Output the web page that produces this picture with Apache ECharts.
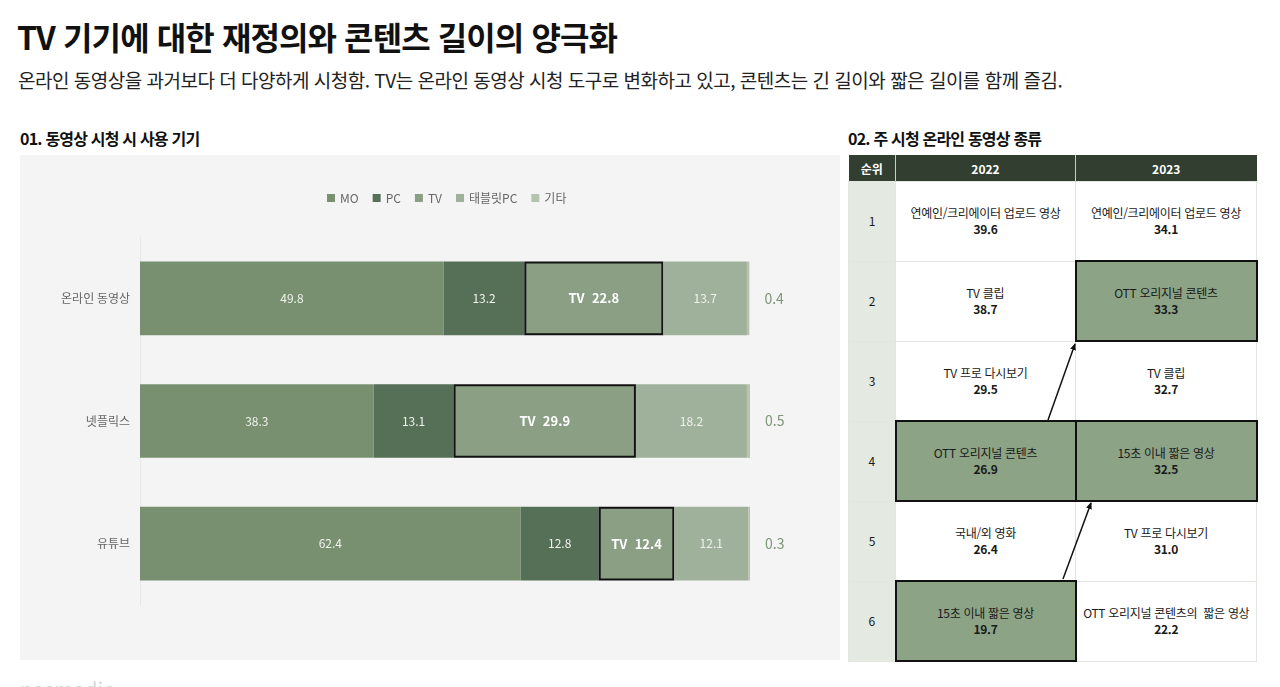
<!DOCTYPE html>
<html lang="ko">
<head>
  <meta charset="utf-8">
  <style>
    body { margin: 0; background: #fff; font-family: "Noto Sans CJK KR", "Noto Sans", sans-serif; color: #111; }
    #page { position: relative; width: 1280px; height: 687px; overflow: hidden; }
    .title { position: absolute; left: 17px; top: 15px; font-size: 32px; font-weight: 700; letter-spacing: -0.9px; line-height: 42px; }
    .subtitle { position: absolute; left: 18px; top: 67px; font-size: 19px; letter-spacing: -0.5px; line-height: 26px; color: #222; }
    .sec { position: absolute; top: 127px; font-size: 16px; font-weight: 700; letter-spacing: -0.8px; line-height: 22px; }
    #panel { position: absolute; left: 20px; top: 155px; width: 820px; height: 505px; background: #f4f4f4; }
    #container { width: 100%; height: 100%; }
    #rank { position: absolute; left: 848px; top: 155px; border-collapse: collapse; table-layout: fixed; }
    #rank th { background: #323f30; color: #fff; font-size: 12px; font-weight: 700; height: 26px; padding: 0; border-left: 1px solid #c9d0c6; }
    #rank th:first-child { border-left: none; }
    #rank td { height: 78px; padding: 0; text-align: center; font-size: 12px; line-height: 16px; letter-spacing: -0.3px; color: #1a1a1a; border: 1px solid #e2e6e0; background: #fff; }
    #rank td.no { background: #e4e9e2; }
    #rank td.hl { background: #8ca386; border: 2px solid #111; }
    #rank td b { font-weight: 700; }
    #arrows { position: absolute; left: 0; top: 0; }
    .mark { position: absolute; left: 20px; top: 674px; font-size: 20px; color: #d4d4d4; letter-spacing: 0.5px; }
  </style>
</head>
<body>
<div id="page">
  <div class="title">TV 기기에 대한 재정의와 콘텐츠 길이의 양극화</div>
  <div class="subtitle">온라인 동영상을 과거보다 더 다양하게 시청함. TV는 온라인 동영상 시청 도구로 변화하고 있고, 콘텐츠는 긴 길이와 짧은 길이를 함께 즐김.</div>
  <div class="sec" style="left:20px">01. 동영상 시청 시 사용 기기</div>
  <div class="sec" style="left:848px">02. 주 시청 온라인 동영상 종류</div>
  <div id="panel"><div id="container"></div></div>
  <table id="rank">
    <colgroup><col style="width:47px"><col style="width:180px"><col style="width:181px"></colgroup>
    <thead><tr><th>순위</th><th>2022</th><th>2023</th></tr></thead>
    <tbody id="rankBody"></tbody>
  </table>
  <svg id="arrows" width="1280" height="687">
    <defs>
      <marker id="head" markerWidth="8" markerHeight="8" refX="6" refY="3" orient="auto" markerUnits="userSpaceOnUse">
        <path d="M0,0 L7,3 L0,6 Z" fill="#111"></path>
      </marker>
    </defs>
    <line x1="1048" y1="420" x2="1075" y2="344" stroke="#111" stroke-width="1.5" marker-end="url(#head)"></line>
    <line x1="1063" y1="579" x2="1091" y2="503" stroke="#111" stroke-width="1.5" marker-end="url(#head)"></line>
  </svg>
  <div class="mark">nasmedia</div>
</div>

<script src="https://cdn.jsdelivr.net/npm/echarts@6/dist/echarts.min.js"></script>
<script>
  // 01. 사용 기기 (%)
  const platforms = ['온라인 동영상', '넷플릭스', '유튜브'];
  const devices = ['MO', 'PC', 'TV', '태블릿PC', '기타'];
  const moValues = [49.8, 38.3, 62.4];
  const pcValues = [13.2, 13.1, 12.8];
  const tvValues = [22.8, 29.9, 12.4];
  const tabletValues = [13.7, 18.2, 12.1];
  const etcValues = [0.4, 0.5, 0.3];

  // 02. 주 시청 종류 (%)
  const ranks = [1, 2, 3, 4, 5, 6];
  const names2022 = ['연예인/크리에이터 업로드 영상', 'TV 클립', 'TV 프로 다시보기', 'OTT 오리지널 콘텐츠', '국내/외 영화', '15초 이내 짧은 영상'];
  const values2022 = ['39.6', '38.7', '29.5', '26.9', '26.4', '19.7'];
  const names2023 = ['연예인/크리에이터 업로드 영상', 'OTT 오리지널 콘텐츠', 'TV 클립', '15초 이내 짧은 영상', 'TV 프로 다시보기', 'OTT 오리지널 콘텐츠의&nbsp; 짧은 영상'];
  const values2023 = ['34.1', '33.3', '32.7', '32.5', '31.0', '22.2'];
  const highlight2022 = [false, false, false, true, false, true];
  const highlight2023 = [false, true, false, true, false, false];

  var body = document.getElementById('rankBody');
  for (let i = 0; i < ranks.length; ++i) {
    var tr = document.createElement('tr');
    tr.innerHTML =
      '<td class="no">' + ranks[i] + '</td>' +
      '<td class="' + (highlight2022[i] ? 'hl' : '') + '">' + names2022[i] + '<br><b>' + values2022[i] + '</b></td>' +
      '<td class="' + (highlight2023[i] ? 'hl' : '') + '">' + names2023[i] + '<br><b>' + values2023[i] + '</b></td>';
    body.appendChild(tr);
  }

  var dom = document.getElementById('container');
  var myChart = echarts.init(dom, null, { renderer: 'canvas' });
  const colors = ['#78906f', '#566f57', '#8b9f85', '#a0b19b', '#b6c3b1'];
  const seriesValues = [moValues, pcValues, tvValues, tabletValues, etcValues];

  var series = devices.map(function (name, i) {
    var s = {
      name: name,
      type: 'bar',
      stack: 'total',
      barWidth: '60%',
      data: seriesValues[i],
      itemStyle: { color: colors[i] },
      label: {
        show: true,
        position: 'inside',
        color: '#eef2ec',
        fontSize: 12,
        fontFamily: 'Noto Sans CJK KR'
      }
    };
    if (name === 'TV') {
      s.itemStyle.borderColor = '#111';
      s.itemStyle.borderWidth = 2;
      s.label.formatter = 'TV  {c}';
      s.label.fontWeight = 'bold';
      s.label.fontSize = 13;
      s.label.color = '#fff';
    }
    if (name === '기타') {
      s.label.position = 'right';
      s.label.distance = 15;
      s.label.color = '#7f9479';
      s.label.fontSize = 14;
    }
    return s;
  });

  var option = {
    animation: false,
    color: colors,
    legend: {
      top: 32,
      left: 302,
      icon: 'rect',
      itemWidth: 8,
      itemHeight: 8,
      itemGap: 14,
      itemStyle: { borderWidth: 0 },
      textStyle: { color: '#666', fontSize: 12, fontFamily: 'Noto Sans CJK KR' },
      data: devices
    },
    grid: { left: 120, top: 82, width: 610, height: 368 },
    xAxis: { type: 'value', min: 0, max: 100, show: false },
    yAxis: {
      type: 'category',
      inverse: true,
      data: platforms,
      axisTick: { show: false },
      axisLine: { show: true, lineStyle: { color: '#e8e8e8' } },
      axisLabel: { color: '#666', fontSize: 12, margin: 10, fontFamily: 'Noto Sans CJK KR' }
    },
    series: series
  };
  myChart.setOption(option);
  window.addEventListener('resize', myChart.resize);
</script>
</body>
</html>
